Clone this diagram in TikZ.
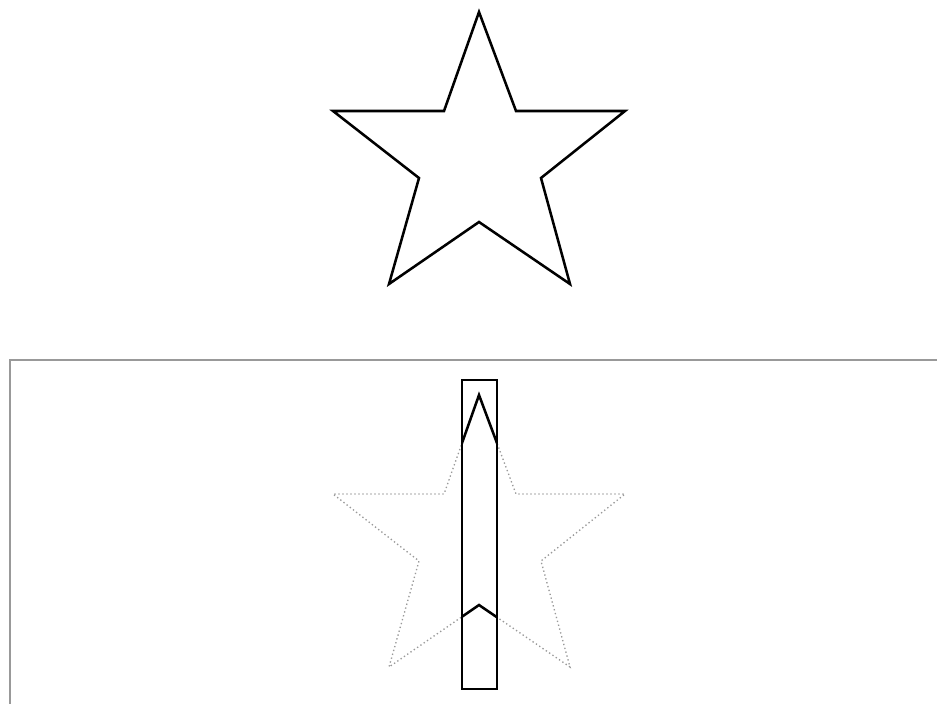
\documentclass[tikz,border=0pt]{standalone}
\begin{document}
\begin{tikzpicture}[x=0.75pt,y=-0.75pt,
  starline/.style={draw=black,line width=1.9pt,line join=miter},
  ghost/.style={draw=black!40,line width=1pt,dash pattern=on 1pt off 2pt},
  frameline/.style={draw=black!40,line width=1.6pt},
  boxline/.style={draw=black,line width=1.9pt}]
\useasboundingbox (0,0) rectangle (937,704);
% star shape as a reusable path
\def\starpath#1{(479,12+#1) -- (516,111+#1) -- (625,111+#1) -- (541,178+#1) -- (570,284+#1) -- (479,222+#1) -- (389,284+#1) -- (419,178+#1) -- (333,111+#1) -- (444,111+#1) -- cycle}
% top star
\draw[starline] \starpath{0};
% frame lines
\draw[frameline] (937,360) -- (10,360) -- (10,704);
% ghost star
\draw[ghost] \starpath{383};
% clipped star inside rectangle
\begin{scope}
\clip (462,380) rectangle (497,689);
\draw[starline] \starpath{383};
\end{scope}
\draw[boxline] (462,380) rectangle (497,689);
\end{tikzpicture}
\end{document}
